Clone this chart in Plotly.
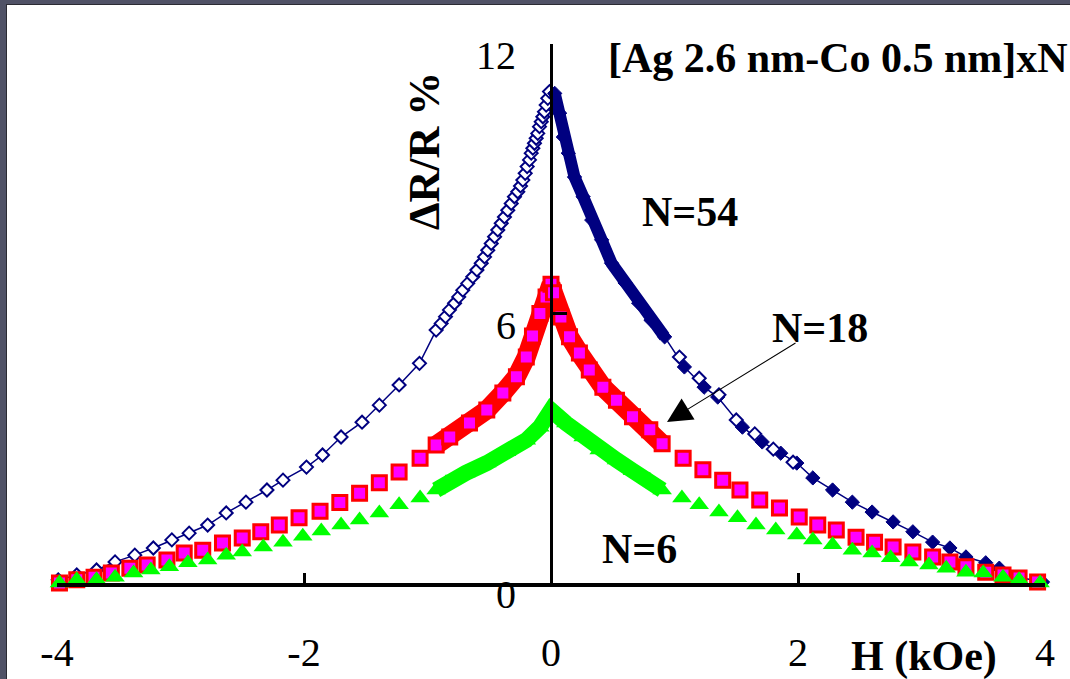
import plotly.graph_objects as go

# ---------------- data ----------------
# N=54 : open diamonds (negative field side)
blue54_left_h = [-3.99, -3.84, -3.68, -3.53, -3.37, -3.22, -3.07, -2.93, -2.78, -2.63, -2.47, -2.30,
                 -2.17, -1.98, -1.85, -1.70, -1.53, -1.39, -1.23, -1.065, -0.93, -0.889, -0.854,
                 -0.822, -0.781, -0.747, -0.714, -0.674, -0.633, -0.600, -0.565, -0.538, -0.512,
                 -0.484, -0.457, -0.431, -0.403, -0.377, -0.350, -0.322, -0.296, -0.269, -0.247,
                 -0.228, -0.209, -0.193, -0.174, -0.160, -0.147, -0.134, -0.120, -0.107, -0.093,
                 -0.079, -0.066, -0.053, -0.039, -0.026, -0.012]
blue54_left_r = [0.07, 0.18, 0.29, 0.47, 0.62, 0.78, 0.96, 1.11, 1.29, 1.56, 1.80, 2.07,
                 2.29, 2.58, 2.85, 3.25, 3.58, 3.96, 4.41, 4.89, 5.63, 5.78, 5.93,
                 6.08, 6.23, 6.37, 6.52, 6.67, 6.82, 6.97, 7.12, 7.26, 7.41,
                 7.56, 7.71, 7.86, 8.01, 8.15, 8.30, 8.45, 8.60, 8.71, 8.84,
                 8.97, 9.12, 9.27, 9.42, 9.57, 9.68, 9.79, 9.90, 10.01, 10.16,
                 10.27, 10.38, 10.49, 10.64, 10.79, 10.94]
# N=54 : filled diamonds (positive field side), dense part and sparse part
blue54_dense_h = [0.03, 0.07, 0.10, 0.14, 0.19, 0.26, 0.33, 0.41, 0.49, 0.60, 0.71, 0.81, 0.92]
blue54_dense_r = [10.90, 10.46, 9.93, 9.57, 9.04, 8.60, 8.08, 7.64, 7.12, 6.68, 6.23, 5.85, 5.48]
blue54_right_h = [1.08, 1.24, 1.35, 1.55, 1.71, 1.86, 1.99, 2.12, 2.28, 2.44, 2.60, 2.77, 2.93,
                  3.09, 3.23, 3.36, 3.52, 3.63, 3.79, 3.98]
blue54_right_r = [4.81, 4.36, 4.14, 3.47, 3.14, 2.89, 2.67, 2.34, 2.07, 1.80, 1.58, 1.36, 1.14,
                  0.91, 0.78, 0.58, 0.45, 0.33, 0.13, 0.02]
blue54_open_h = [1.04, 1.20, 1.36, 1.50, 1.65, 1.80, 1.96]
blue54_open_r = [5.03, 4.56, 4.19, 3.63, 3.32, 2.98, 2.69]

# N=18 : squares
red18_dense_h = [-0.93, -0.82, -0.66, -0.52, -0.39, -0.28, -0.20, -0.15, -0.09, -0.04, 0.0,
                 0.02, 0.08, 0.15, 0.23, 0.31, 0.42, 0.53, 0.66, 0.80, 0.90]
red18_dense_r = [3.07, 3.25, 3.56, 3.85, 4.23, 4.59, 5.03, 5.50, 6.00, 6.37, 6.65,
                 6.46, 5.92, 5.48, 5.12, 4.74, 4.36, 4.07, 3.70, 3.41, 3.10]
red18_left_h = [-3.98, -3.84, -3.70, -3.56, -3.41, -3.27, -3.11, -2.97, -2.82, -2.66, -2.50,
                -2.35, -2.20, -2.04, -1.87, -1.71, -1.55, -1.39, -1.23, -1.06]
red18_left_r = [0.00, 0.07, 0.13, 0.22, 0.33, 0.40, 0.51, 0.67, 0.73, 0.89, 1.00,
                1.14, 1.29, 1.45, 1.60, 1.79, 2.00, 2.23, 2.47, 2.78]
red18_right_h = [1.07, 1.23, 1.39, 1.53, 1.69, 1.85, 2.01, 2.16, 2.31, 2.47, 2.62, 2.77, 2.93,
                 3.09, 3.23, 3.36, 3.52, 3.66, 3.79, 3.94]
red18_right_r = [2.78, 2.52, 2.29, 2.07, 1.85, 1.67, 1.47, 1.29, 1.18, 1.02, 0.91, 0.80, 0.69,
                 0.58, 0.47, 0.36, 0.24, 0.18, 0.11, 0.02]

# N=6 : triangles
green6_dense_h = [-0.93, -0.85, -0.69, -0.52, -0.36, -0.20, -0.09, 0.0, 0.12, 0.26, 0.39, 0.53,
                  0.66, 0.80, 0.90]
green6_dense_r = [2.07, 2.23, 2.45, 2.67, 2.92, 3.18, 3.47, 3.85, 3.56, 3.25, 2.96, 2.74,
                  2.50, 2.29, 2.07]
green6_left_h = [-3.98, -3.84, -3.68, -3.53, -3.38, -3.24, -3.09, -2.94, -2.78, -2.63, -2.50,
                 -2.33, -2.17, -2.01, -1.86, -1.70, -1.55, -1.39, -1.23, -1.06]
green6_left_r = [0.00, 0.07, 0.07, 0.13, 0.22, 0.29, 0.36, 0.45, 0.51, 0.62, 0.69,
                 0.80, 0.91, 1.04, 1.16, 1.29, 1.40, 1.56, 1.74, 1.89]
green6_right_h = [1.06, 1.20, 1.36, 1.51, 1.66, 1.82, 1.99, 2.12, 2.28, 2.44, 2.60, 2.75, 2.90,
                  3.06, 3.20, 3.36, 3.50, 3.66, 3.79, 3.96]
green6_right_r = [1.89, 1.74, 1.58, 1.45, 1.29, 1.18, 1.07, 0.96, 0.85, 0.73, 0.67, 0.56, 0.47,
                  0.40, 0.33, 0.24, 0.22, 0.13, 0.07, 0.00]

x_ticks = [-4, -2, 0, 2, 4]
y_ticks = [0, 6, 12]
title_text = "[Ag 2.6 nm-Co 0.5 nm]xN"
labels = ["N=54", "N=18", "N=6"]

NAVY = "#000080"
RED = "#ff0000"
MAGENTA = "#ff00ff"
GREEN = "#00ff00"
SERIF = "Liberation Serif"

# plot-area geometry (pixels)
L, T, W, H = 57, 44, 988, 539


def px(xp):
    return (xp - L) / W


def py(yp):
    return (T + H - yp) / H


fig = go.Figure()

# ---- N=54 ----
fig.add_trace(go.Scatter(x=blue54_left_h, y=blue54_left_r, mode="lines+markers",
                         line=dict(color=NAVY, width=1.5),
                         marker=dict(symbol="diamond", size=10, color="white",
                                     line=dict(color=NAVY, width=2)),
                         cliponaxis=False, showlegend=False))
fig.add_trace(go.Scatter(x=blue54_dense_h, y=blue54_dense_r, mode="lines",
                         line=dict(color=NAVY, width=12),
                         cliponaxis=False, showlegend=False))
fig.add_trace(go.Scatter(x=blue54_dense_h + blue54_right_h, y=blue54_dense_r + blue54_right_r,
                         mode="lines+markers", line=dict(color=NAVY, width=1.5),
                         marker=dict(symbol="diamond", size=11, color=NAVY,
                                     line=dict(color=NAVY, width=1)),
                         cliponaxis=False, showlegend=False))
fig.add_trace(go.Scatter(x=blue54_open_h, y=blue54_open_r, mode="markers",
                         marker=dict(symbol="diamond", size=10, color="white",
                                     line=dict(color=NAVY, width=2)),
                         cliponaxis=False, showlegend=False))

# ---- N=18 ----
fig.add_trace(go.Scatter(x=red18_dense_h, y=red18_dense_r, mode="lines",
                         line=dict(color=RED, width=19),
                         cliponaxis=False, showlegend=False))
fig.add_trace(go.Scatter(x=red18_left_h + red18_dense_h + red18_right_h,
                         y=red18_left_r + red18_dense_r + red18_right_r, mode="markers",
                         marker=dict(symbol="square", size=14, color=MAGENTA,
                                     line=dict(color=RED, width=3)),
                         cliponaxis=False, showlegend=False))

# ---- N=6 ----
fig.add_trace(go.Scatter(x=green6_dense_h, y=green6_dense_r, mode="lines",
                         line=dict(color=GREEN, width=16),
                         cliponaxis=False, showlegend=False))
fig.add_trace(go.Scatter(x=green6_left_h + green6_dense_h + green6_right_h,
                         y=green6_left_r + green6_dense_r + green6_right_r, mode="markers",
                         marker=dict(symbol="triangle-up", size=17, color=GREEN,
                                     line=dict(width=0)),
                         cliponaxis=False, showlegend=False))

BOLD = dict(family=SERIF, size=42, color="black")
annotations = [
    dict(text="<b>" + title_text + "</b>", xref="paper", yref="paper",
         x=px(606), y=py(58), xanchor="left", yanchor="middle",
         showarrow=False, font=dict(family=SERIF, size=42, color="black")),
    dict(text="<b>ΔR/R %</b>", xref="paper", yref="paper", textangle=-90,
         x=px(424), y=py(151), xanchor="center", yanchor="middle",
         showarrow=False, font=dict(family=SERIF, size=44, color="black")),
    dict(text="<b>" + labels[0] + "</b>", xref="paper", yref="paper",
         x=px(690), y=py(212), xanchor="center", yanchor="middle",
         showarrow=False, font=BOLD),
    dict(text="<b>" + labels[1] + "</b>", xref="paper", yref="paper",
         x=px(820), y=py(328), xanchor="center", yanchor="middle",
         showarrow=False, font=BOLD),
    dict(text="<b>" + labels[2] + "</b>", xref="paper", yref="paper",
         x=px(639), y=py(549), xanchor="center", yanchor="middle",
         showarrow=False, font=BOLD),
    dict(text="<b>H (kOe)</b>", xref="paper", yref="paper",
         x=px(924), y=py(656), xanchor="center", yanchor="middle",
         showarrow=False, font=BOLD),
    dict(text="", xref="paper", yref="paper",
         x=px(667), y=py(422), ax=130, ay=-80,
         showarrow=True, arrowhead=2, arrowsize=4.5, arrowwidth=1.1, arrowcolor="black"),
]

shapes = [
    dict(type="rect", xref="paper", yref="paper", x0=px(0), x1=px(6),
         y0=py(679), y1=py(0), fillcolor="#505266", line=dict(width=0), layer="above"),
    dict(type="rect", xref="paper", yref="paper", x0=px(0), x1=px(1070),
         y0=py(4), y1=py(0), fillcolor="#505266", line=dict(width=0), layer="above"),
    dict(type="line", xref="paper", yref="paper", x0=px(6.5), x1=px(6.5),
         y0=py(679), y1=py(4), line=dict(color="#2b2b33", width=1), layer="above"),
    dict(type="line", xref="paper", yref="paper", x0=px(6), x1=px(1070),
         y0=py(4.5), y1=py(4.5), line=dict(color="#2b2b33", width=1), layer="above"),
]

fig.update_layout(
    width=1070, height=679,
    margin=dict(l=L, r=1070 - L - W, t=T, b=679 - T - H, autoexpand=False),
    paper_bgcolor="white", plot_bgcolor="white",
    showlegend=False,
    font=dict(family=SERIF, color="black"),
    xaxis=dict(range=[-4, 4], tickvals=x_ticks, ticktext=[str(v) for v in x_ticks],
               automargin=False,
               showgrid=False, zeroline=False, showline=True, linecolor="black", linewidth=4,
               ticks="inside", ticklen=10, tickwidth=3, tickcolor="black",
               tickfont=dict(family=SERIF, size=40, color="black"),
               ticklabelstandoff=31),
    yaxis=dict(range=[0, 12], tickvals=y_ticks, ticktext=[str(v) for v in y_ticks],
               anchor="free", position=0.5, automargin=False,
               showgrid=False, zeroline=False, showline=True, linecolor="black", linewidth=3,
               ticks="inside", ticklen=14, tickwidth=3, tickcolor="black",
               tickfont=dict(family=SERIF, size=40, color="black"),
               ticklabelstandoff=26, ticklabelshift=11),
    annotations=annotations,
    shapes=shapes,
)

fig.write_html("out.html", config={"displayModeBar": False},
               post_script="document.body.style.margin='0px';document.body.style.padding='0px';"
                           "document.body.style.overflow='hidden';")
